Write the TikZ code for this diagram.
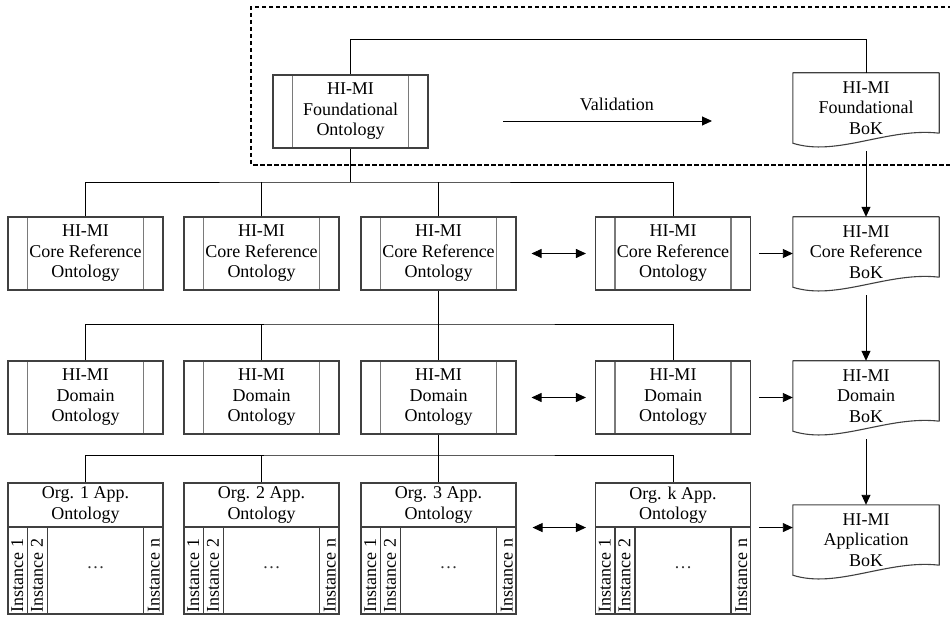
\documentclass[tikz,border=0pt]{standalone}
\usepackage{fontspec}
\setmainfont{Liberation Serif}
\newfontfamily\labelfont{Liberation Serif}
\usetikzlibrary{arrows.meta}

\definecolor{boxline}{gray}{0.25}
\definecolor{divline}{gray}{0.48}

% document-shaped outline (wavy bottom) around a BoK node
\newcommand{\drawbok}[1]{%
  \draw[bokline] (#1.south west) -- (#1.north west) -- (#1.north east)
    -- ([yshift=10pt]#1.south east)
    .. controls ([xshift=95pt,yshift=16pt]#1.south west) and ([xshift=44pt,yshift=-14pt]#1.south west) .. (#1.south west) -- cycle;}

\tikzset{
  txt/.style={font=\labelfont\fontsize{18}{20.5}\selectfont, align=center, text=black},
  onto/.style={txt, draw=boxline, line width=1.1pt, minimum width=155pt, minimum height=73pt, inner sep=0pt,
    path picture={\draw[divline, line width=1.1pt]
      ([xshift=19.5pt]path picture bounding box.north west) -- ([xshift=19.5pt]path picture bounding box.south west)
      ([xshift=-19.5pt]path picture bounding box.north east) -- ([xshift=-19.5pt]path picture bounding box.south east);}},
  apphead/.style={txt, draw=boxline, line width=1.1pt, minimum width=155pt, minimum height=44pt, inner sep=0pt},
  appbody/.style={draw=boxline, line width=1.1pt, minimum width=155pt, minimum height=87pt, inner sep=0pt,
    path picture={\draw[boxline, line width=1.1pt]
      ([xshift=19.5pt]path picture bounding box.north west) -- ([xshift=19.5pt]path picture bounding box.south west)
      ([xshift=39.5pt]path picture bounding box.north west) -- ([xshift=39.5pt]path picture bounding box.south west)
      ([xshift=-19.5pt]path picture bounding box.north east) -- ([xshift=-19.5pt]path picture bounding box.south east);}},
  inst/.style={font=\labelfont\fontsize{18}{20}\selectfont, text=black, rotate=90, anchor=west, inner sep=0pt},
  dotsnode/.style={font=\labelfont\fontsize{18}{20}\selectfont, text=black!80, inner sep=0pt},
  bok/.style={txt, minimum width=146pt, minimum height=70pt, inner sep=0pt},
  bokline/.style={draw=boxline, line width=1.1pt, line join=round},
  conn/.style={draw=black, line width=0.9pt},
  arr/.style={conn, -{Triangle[length=10pt,width=9pt]}},
  darr/.style={conn, {Triangle[length=10pt,width=9pt]}-{Triangle[length=10pt,width=9pt]}},
  frame/.style={draw=black, line width=1.5pt, dash pattern=on 4.5pt off 2.5pt},
}

\begin{document}
\begin{tikzpicture}[x=1pt, y=-1pt]
\useasboundingbox (0,0) rectangle (950,617);

% dashed frame around the foundational level (open at the right)
\draw[frame] (952,7) -- (251,7) -- (251,165) -- (952,165);

% foundational level
\node[onto] (found) at (350.5,111.5) {HI-MI\\Foundational\\Ontology};
\node[bok] (fbok) at (866,108) {HI-MI\\Foundational\\BoK};
\drawbok{fbok}

% core reference level
\node[onto] (c1) at (85.5,253.5) {HI-MI\\Core Reference\\Ontology};
\node[onto] (c2) at (261.5,253.5) {HI-MI\\Core Reference\\Ontology};
\node[onto] (c3) at (438.5,253.5) {HI-MI\\Core Reference\\Ontology};
\node[onto] (c4) at (673,253.5) {HI-MI\\Core Reference\\Ontology};
\node[bok] (cbok) at (866,252) {HI-MI\\Core Reference\\BoK};
\drawbok{cbok}

% domain level
\node[onto] (d1) at (85.5,397.5) {HI-MI\\Domain\\Ontology};
\node[onto] (d2) at (261.5,397.5) {HI-MI\\Domain\\Ontology};
\node[onto] (d3) at (438.5,397.5) {HI-MI\\Domain\\Ontology};
\node[onto] (d4) at (673,397.5) {HI-MI\\Domain\\Ontology};
\node[bok] (dbok) at (866,396) {HI-MI\\Domain\\BoK};
\drawbok{dbok}

% application level: header plus instance columns
\foreach \id/\cx in {1/85.5, 2/261.5, 3/438.5, k/673} {
  \node[apphead] (a\id h) at (\cx,505) {Org. \id\ App.\\Ontology};
  \node[appbody] (a\id b) at (\cx,570.5) {};
  \node[inst] (a\id i1) at ([xshift=9.75pt,yshift=2pt]a\id b.south west) {Instance 1};
  \node[inst] (a\id i2) at ([xshift=29.5pt,yshift=2pt]a\id b.south west) {Instance 2};
  \node[inst] (a\id in) at ([xshift=-9.75pt,yshift=2pt]a\id b.south east) {Instance n};
  \node[dotsnode] (a\id dots) at ([xshift=10pt,yshift=2.5pt]a\id b.center) {\dots};
}
\node[bok] (abok) at (866,540) {HI-MI\\Application\\BoK};
\drawbok{abok}

% foundational links
\coordinate (top) at (350.5,39);
\draw[conn] (found.north) -- (top) -| (fbok.north);
\coordinate (v1) at (503,121);
\coordinate (v2) at (712,121);
\draw[arr] (v1) -- (v2) node[pos=0.545, above=10pt, inner sep=0pt, txt] (vlab) {Validation};

% bus to the core reference ontologies
\coordinate (b1) at (350.5,182);
\draw[conn] (found.south) -- (b1);
\draw[conn] (c1.north) |- (b1) -| (c4.north);
\draw[conn] (c2.north) -- (c2.north |- b1);
\draw[conn] (c3.north) -- (c3.north |- b1);

% bus to the domain ontologies
\coordinate (b2) at (438.5,324);
\draw[conn] (c3.south) -- (b2);
\draw[conn] (d1.north) |- (b2) -| (d4.north);
\draw[conn] (d2.north) -- (d2.north |- b2);
\draw[conn] (d3.north) -- (d3.north |- b2);

% bus to the application ontologies
\coordinate (b3) at (438.5,455);
\draw[conn] (d3.south) -- (b3);
\draw[conn] (a1h.north) |- (b3) -| (akh.north);
\draw[conn] (a2h.north) -- (a2h.north |- b3);
\draw[conn] (a3h.north) -- (a3h.north |- b3);

% horizontal arrows
\draw[darr] ([xshift=15pt]c3.east) -- ([xshift=-9pt]c4.west);
\draw[arr] ([xshift=8pt]c4.east) -- (cbok.west |- c4.east);
\draw[darr] ([xshift=15pt]d3.east) -- ([xshift=-9pt]d4.west);
\draw[arr] ([xshift=8pt]d4.east) -- (dbok.west |- d4.east);
\draw[darr] ([xshift=16pt]a3h.south east) -- ([xshift=-9pt]akh.south west);
\draw[arr] ([xshift=8pt]akh.south east) -- (abok.west |- akh.south east);

% vertical arrows between bodies of knowledge
\draw[arr] ([yshift=-8pt]fbok.south) -- (cbok.north);
\draw[arr] ([yshift=-8pt]cbok.south) -- (dbok.north);
\draw[arr] ([yshift=-8pt]dbok.south) -- (abok.north);
\end{tikzpicture}
\end{document}
